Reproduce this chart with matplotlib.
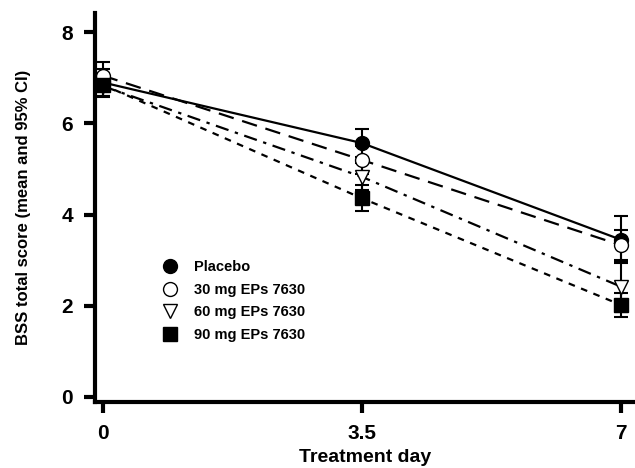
import numpy as np
import matplotlib.pyplot as plt
from matplotlib.lines import Line2D

plt.rcParams['font.family'] = ['Liberation Sans', 'DejaVu Sans']
plt.rcParams['font.weight'] = 'bold'

# Datos
days = [0, 3.5, 7]
labels = ['Placebo', '30 mg EPs 7630', '60 mg EPs 7630', '90 mg EPs 7630']
placebo = [6.9, 5.57, 3.45]
mg30 = [7.05, 5.2, 3.33]
mg60 = [6.82, 4.83, 2.42]
mg90 = [6.85, 4.36, 2.02]
err_placebo = [0.3, 0.3, 0.52]
err_30 = [0.3, 0.3, 0.33]
err_60 = [0.25, 0.3, 0.55]
err_90 = [0.25, 0.28, 0.27]

series = [placebo, mg30, mg60, mg90]
errors = [err_placebo, err_30, err_60, err_90]
markers = ['o', 'o', 'v', 's']
faces = ['black', 'white', 'white', 'black']
styles = ['-', (0, (7, 4)), (0, (6, 3, 1.5, 3)), (0, (3, 3))]

fig = plt.figure(figsize=(6.35, 4.68), dpi=100)
ax = fig.add_axes([0.150, 0.141, 0.85, 0.831])

handles = []
for y, e, m, fc, ls, lab in zip(series, errors, markers, faces, styles, labels):
    ax.plot(days, y, color='black', linestyle=ls, linewidth=1.6, zorder=2)
    ax.errorbar(days, y, yerr=e, fmt='none', ecolor='black', elinewidth=1.5,
                capsize=5, capthick=1.5, zorder=3)
    ax.plot(days, y, linestyle='none', marker=m, markersize=10,
            markerfacecolor=fc, markeredgecolor='black', markeredgewidth=1, zorder=4)
    handles.append(Line2D([], [], linestyle='none', marker=m, markersize=10,
                          markerfacecolor=fc, markeredgecolor='black', markeredgewidth=1))

ax.set_xlim(-0.1, 7.19)
ax.set_ylim(-0.11, 8.42)
ax.set_xticks(days)
ax.set_xticklabels(['0', '3.5', '7'])
ax.set_yticks([0, 2, 4, 6, 8])

for s in ['top', 'right']:
    ax.spines[s].set_visible(False)
for s in ['left', 'bottom']:
    ax.spines[s].set_linewidth(3)
ax.tick_params(width=3, length=8, labelsize=15)
ax.tick_params(axis='x', pad=8)
ax.tick_params(axis='y', pad=8)

ax.set_xlabel('Treatment day', fontsize=14, fontweight='bold', labelpad=4)
ax.set_ylabel('BSS total score (mean and 95% CI)', fontsize=12, fontweight='bold', labelpad=22)

ax.legend(handles, labels, loc='lower left', bbox_to_anchor=(0.088, 0.12),
          frameon=False, handletextpad=0.6, labelspacing=0.6,
          prop={'weight': 'bold', 'size': 10.5})

fig.savefig('out.png', dpi=100)
